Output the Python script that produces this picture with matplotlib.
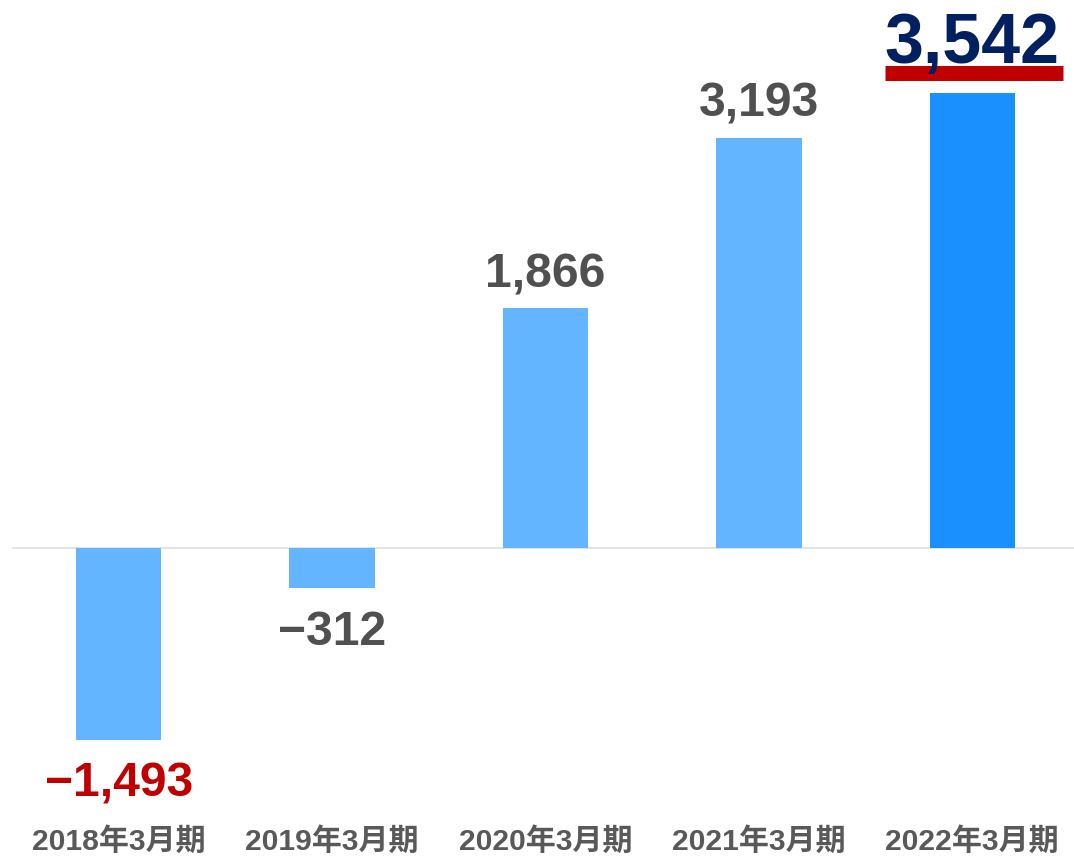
import matplotlib.pyplot as plt
import matplotlib.transforms as mtransforms

# --- data ---
categories = ['2018年3月期', '2019年3月期', '2020年3月期', '2021年3月期', '2022年3月期']
values = [-1493, -312, 1866, 3193, 3542]
labels = [f'{v:,}'.replace('-', '\u2212') for v in values]

plt.rcParams['font.family'] = ['Liberation Sans', 'Noto Sans CJK JP', 'DejaVu Sans']

DPI = 72  # 1 pt == 1 px
W, H = 1074, 857
fig = plt.figure(figsize=(W / DPI, H / DPI), dpi=DPI)

# axes placed in pixel terms: zero line at y=548px, 0.1285 px per unit
scale = 0.1285
top_px, bottom_px = 0, 792
y_top = (548 - top_px) / scale
y_bot = -(bottom_px - 548) / scale
ax = fig.add_axes([12 / W, (H - bottom_px) / H, 1067 / W, (bottom_px - top_px) / H])
ax.set_xlim(-0.5, len(categories) - 0.5)
ax.set_ylim(y_bot, y_top)
ax.axis('off')

light = '#63B5FF'
dark = '#1A90FF'
colors = [light] * 4 + [dark]
x = list(range(len(categories)))
ax.bar(x, values, width=0.40, color=colors, zorder=2)
ax.axhline(0, color='#E3E3E3', lw=2, zorder=1)

gray = '#505050'
for i, (v, lab) in enumerate(zip(values, labels)):
    if i == len(values) - 1:
        ax.annotate(lab, (i, v), xytext=(0, 30), textcoords='offset points',
                    ha='center', va='baseline', fontsize=70, fontweight='bold',
                    color='#002060')
        # red underline beneath the highlighted value
        tr = mtransforms.offset_copy(ax.transData, fig=fig, x=0, y=19.5, units='points')
        ax.plot([i - 0.41, i + 0.425], [v, v], transform=tr, color='#C00000',
                lw=15, solid_capstyle='butt', clip_on=False)
    elif v >= 0:
        ax.annotate(lab, (i, v), xytext=(0, 21), textcoords='offset points',
                    ha='center', va='baseline', fontsize=48, fontweight='bold',
                    color=gray)
    else:
        col = '#C00000' if i == 0 else gray
        ax.annotate(lab, (i, v), xytext=(0, -57), textcoords='offset points',
                    ha='center', va='baseline', fontsize=48, fontweight='bold',
                    color=col)

# category labels at a fixed pixel height near the bottom
lab_tr = mtransforms.blended_transform_factory(ax.transData, fig.transFigure)
for i, c in enumerate(categories):
    ax.text(i, 1 - 850 / H, c, transform=lab_tr, ha='center', va='baseline',
            fontsize=30, fontweight='bold', color='#595959')

fig.savefig('out.png', dpi=DPI)
